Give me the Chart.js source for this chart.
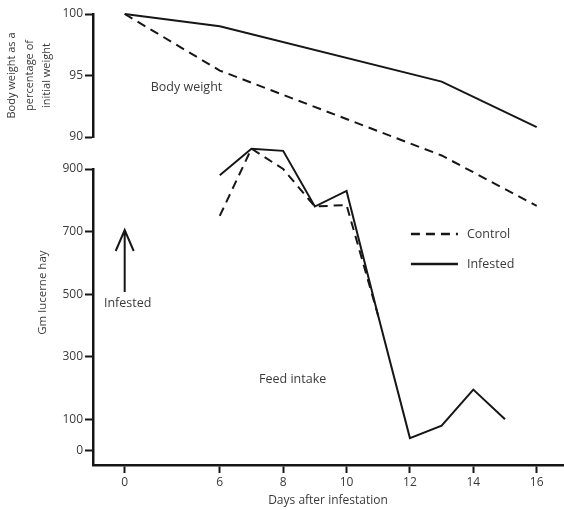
<!DOCTYPE html>
<html>
<head>
<meta charset="utf-8">
<script src="https://cdn.jsdelivr.net/npm/chart.js@4"></script>
<style>
  html, body { margin: 0; padding: 0; background: #fff; }
  #wrap { width: 564px; height: 510px; }
</style>
</head>
<body>
<div id="wrap"><canvas id="feedChart"></canvas></div>
<script>
// days 0-6 are squeezed to half scale on the x axis
const axisPos = d => (d < 6 ? 6 - (6 - d) / 2 : d);

const tickDays = [0, 6, 8, 10, 12, 14, 16];
const weightTicks = [90, 95, 100];
const feedTicks = [0, 100, 300, 500, 700, 900];

// body weight, % of initial
const weightDays = [0, 6, 13, 16];
const weightControl = [100, 95.4, 88.5, 84.4];
const weightInfested = [100, 99.0, 94.5, 90.8];

// feed intake, gm lucerne hay
const feedDaysControl = [6, 7, 8, 9, 10, 11];
const feedControl = [750, 965, 900, 780, 785, 430];
const feedDaysInfested = [6, 7, 8, 9, 10, 11, 12, 13, 14, 15];
const feedInfested = [880, 965, 958, 780, 830, 430, 40, 80, 195, 100];

const INK = '#161616';
const TEXT = '#3a3a3a';
const FONT = '"Open Sans"';
const DASH = [9, 6];

const pts = (days, vals) => days.map((d, i) => ({ x: axisPos(d), y: vals[i] }));

function line(label, data, yAxisID, dashed) {
  return {
    label, data, yAxisID,
    borderColor: INK,
    borderWidth: 2,
    borderDash: dashed ? DASH : [],
    pointRadius: 0,
    tension: 0,
    clip: false,
    legend: yAxisID === 'yFeed'
  };
}

const axisGrid = { drawOnChartArea: false, drawTicks: true, tickLength: 8, tickWidth: 2, tickColor: INK };
const axisBorder = { display: true, width: 2.5, color: INK };
const tickFont = { family: FONT, size: 12 };

// free-standing labels, arrow and key
const notes = {
  id: 'notes',
  afterDatasetsDraw(chart) {
    const { ctx, scales: { x, yBody, yFeed } } = chart;
    ctx.save();
    ctx.fillStyle = TEXT;
    ctx.strokeStyle = INK;
    ctx.textAlign = 'center';
    ctx.textBaseline = 'middle';
    ctx.font = `12.5px ${FONT}`;
    ctx.fillText('Body weight', x.getPixelForValue(4.95), yBody.getPixelForValue(94.0));
    ctx.fillText('Feed intake', x.getPixelForValue(8.3), yFeed.getPixelForValue(229));

    // arrow marking the day of infestation
    const ax = x.getPixelForValue(axisPos(0));
    const tip = yFeed.getPixelForValue(705);
    const tail = yFeed.getPixelForValue(507);
    ctx.lineWidth = 2;
    ctx.beginPath();
    ctx.moveTo(ax, tail);
    ctx.lineTo(ax, tip);
    ctx.moveTo(ax - 9, tip + 21);
    ctx.lineTo(ax, tip);
    ctx.lineTo(ax + 9, tip + 21);
    ctx.stroke();
    ctx.fillText('Infested', ax + 3, yFeed.getPixelForValue(470));

    // feed axis title
    ctx.save();
    ctx.translate(43, yFeed.getPixelForValue(505));
    ctx.rotate(-Math.PI / 2);
    ctx.font = `11.5px ${FONT}`;
    ctx.fillText('Gm lucerne hay', 0, 0);
    ctx.restore();

    // key
    const kx = x.getPixelForValue(12) + 1;
    const keyVals = [692, 596];
    ctx.textAlign = 'left';
    chart.data.datasets.filter(ds => ds.legend).forEach((ds, i) => {
      const ky = yFeed.getPixelForValue(keyVals[i]);
      ctx.setLineDash(ds.borderDash);
      ctx.lineWidth = 2.5;
      ctx.beginPath();
      ctx.moveTo(kx, ky);
      ctx.lineTo(kx + 47, ky);
      ctx.stroke();
      ctx.setLineDash([]);
      ctx.fillText(ds.label, kx + 56, ky);
    });
    ctx.restore();
  }
};

new Chart(document.getElementById('feedChart'), {
  type: 'line',
  data: {
    datasets: [
      line('Control', pts(weightDays, weightControl), 'yBody', true),
      line('Infested', pts(weightDays, weightInfested), 'yBody', false),
      line('Control', pts(feedDaysControl, feedControl), 'yFeed', true),
      line('Infested', pts(feedDaysInfested, feedInfested), 'yFeed', false)
    ]
  },
  options: {
    responsive: true,
    maintainAspectRatio: false,
    animation: false,
    layout: { padding: { top: 14, right: 1, bottom: 0, left: 0 } },
    plugins: { legend: { display: false }, tooltip: { enabled: false } },
    scales: {
      x: {
        type: 'linear',
        min: 2,
        max: 16.83,
        grid: axisGrid,
        border: axisBorder,
        afterBuildTicks: s => { s.ticks = tickDays.map(d => ({ value: axisPos(d) })); },
        afterFit: s => { s.height = 45; },
        ticks: {
          autoSkip: false, maxRotation: 0, padding: 2,
          color: TEXT, font: tickFont,
          callback: (v, i) => tickDays[i]
        },
        title: {
          display: true, text: 'Days after infestation',
          color: TEXT, font: { family: FONT, size: 12 },
          padding: { top: 0, bottom: 2 }
        }
      },
      yBody: {
        type: 'linear',
        position: 'left',
        stack: 'left', stackWeight: 123, weight: 3,
        min: 90, max: 100,
        grid: axisGrid,
        border: axisBorder,
        afterBuildTicks: s => { s.ticks = weightTicks.map(v => ({ value: v })); },
        afterFit: s => { s.width = 93; },
        ticks: { color: TEXT, font: tickFont, padding: 2 },
        title: {
          display: true,
          text: ['Body weight as a', 'percentage of', 'initial weight'],
          color: TEXT, font: { family: FONT, size: 11, lineHeight: 1.6 },
          padding: { top: 3, bottom: 0 }
        }
      },
      gap: {
        type: 'linear',
        position: 'left',
        stack: 'left', stackWeight: 32, weight: 2,
        display: false
      },
      yFeed: {
        type: 'linear',
        position: 'left',
        stack: 'left', stackWeight: 296, weight: 1,
        min: -46, max: 900,
        grid: axisGrid,
        border: axisBorder,
        afterBuildTicks: s => { s.ticks = feedTicks.map(v => ({ value: v })); },
        afterFit: s => { s.width = 93; },
        ticks: { color: TEXT, font: tickFont, padding: 2 }
      }
    }
  },
  plugins: [notes]
});
</script>
</body>
</html>
